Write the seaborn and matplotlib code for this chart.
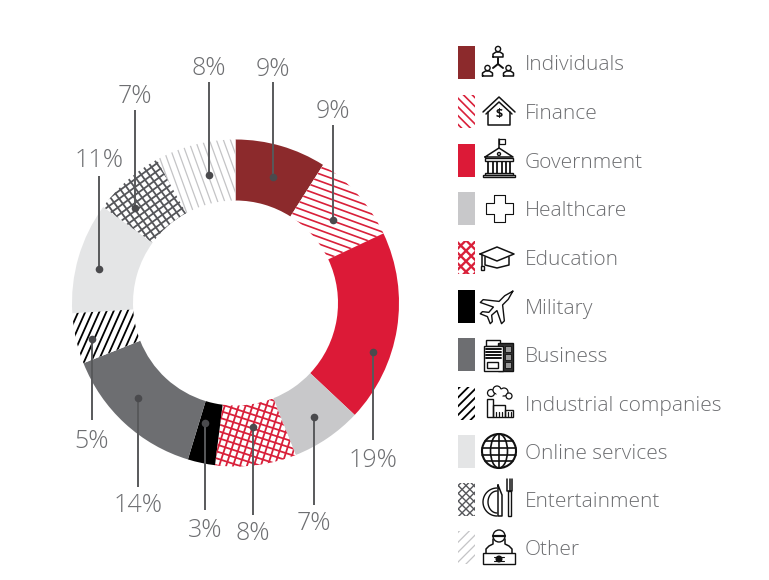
import matplotlib
matplotlib.use('Agg')
import matplotlib.pyplot as plt
import numpy as np
import seaborn as sns
from matplotlib.patches import Rectangle, Circle, Polygon, Ellipse

sectors = ['Individuals', 'Finance', 'Government', 'Healthcare', 'Education', 'Military',
           'Business', 'Industrial companies', 'Online services', 'Entertainment', 'Other']
shares = [9, 9, 19, 7, 8, 3, 14, 5, 11, 7, 8]
# the Military slice is drawn a little under its printed 3%
drawn = [9, 9, 19, 7, 8, 2.7, 14.3, 5, 11, 7, 8]
colors = ['#8c2a2c', '#d9203a', '#dc1a37', '#c8c8ca', '#d9203a', '#000000',
          '#6d6e71', '#000000', '#e4e5e6', '#55565a', '#c4c4c6']

# angle, spacing, line width for the hatched sectors, None = solid
wedge_hatch = [None, ([-20], 6.6, 1.2), None, None, ([72, -18], 6.6, 1.3), None,
               None, ([66], 6.4, 1.3), None, ([36, -54], 6.4, 1.3), ([-70], 6.6, 0.9)]
key_hatch = [None, ([-45], 6.2, 1.2), None, None, ([45, -45], 7.4, 1.7), None,
             None, ([45], 6.2, 1.3), None, ([45, -45], 5.5, 1.0), ([45], 7, 0.9)]

# dot x, dot y, line end y, label y (picture pixels)
callouts = [(273, 177, 82, 66), (333, 220, 125, 108), (373, 352, 440, 457), (314, 417, 505, 520),
            (253, 427, 515, 530), (205, 423, 510, 527), (138, 398, 487, 502), (92, 339, 420, 438),
            (99, 269, 176, 157), (135, 208, 110, 93), (209, 175, 82, 65)]

key_y = [62, 111, 160, 208, 257, 306, 354, 403, 451, 499, 547]

TEXT = '#6d6e71'
H = 580
CX, CY = 235.5, H - 303

sns.set_theme(style='white')
plt.rcParams['font.family'] = ['Open Sans', 'DejaVu Sans']

fig = plt.figure(figsize=(7.69, 5.8), dpi=100)
ax = fig.add_axes([0, 0, 1, 1])


def hatch_lines(patch, angles, spacing, color, lw, cx, cy, reach):
    for a in angles:
        t = np.radians(a)
        d = np.array([np.cos(t), np.sin(t)])
        n = np.array([-d[1], d[0]])
        for off in np.arange(-reach, reach, spacing):
            p0 = np.array([cx, cy]) + n * off - d * reach
            p1 = np.array([cx, cy]) + n * off + d * reach
            line, = ax.plot([p0[0], p1[0]], [p0[1], p1[1]], color=color, lw=lw, solid_capstyle='butt', zorder=3)
            line.set_clip_path(patch)


wedges, _ = ax.pie(drawn, startangle=90, counterclock=False, radius=163.5, center=(CX, CY),
                   colors=colors, wedgeprops={'width': 61, 'linewidth': 0})
ax.set_xlim(0, 769)
ax.set_ylim(0, H)
ax.set_aspect('auto')
ax.axis('off')

for w, col, h in zip(wedges, colors, wedge_hatch):
    if h is None:
        continue
    w.set_facecolor('white')
    hatch_lines(w, h[0], h[1], col, h[2], CX, CY, 180)

for (px, py, end, lab), val in zip(callouts, shares):
    ax.plot([px, px], [H - py, H - end], color='#58595b', lw=1.4, zorder=5, solid_capstyle='butt')
    ax.plot(px, H - py, 'o', color='#4a4a4d', ms=5.5, zorder=6, mew=0)
    ax.text(px, H - lab - 10, f'{val}%', ha='center', va='baseline', fontsize=18, color=TEXT, fontweight='light')


# small outline icons, drawn around (x, y) in picture pixels
def L(x, y, xs, ys, lw=1.1):
    ax.plot([x + v for v in xs], [H - y - v for v in ys], color='#111111', lw=lw, solid_capstyle='round', zorder=5)


def C(x, y, dx, dy, r, fill='none', lw=1.0):
    ax.add_patch(Circle((x + dx, H - y - dy), r, fc=fill, ec='#111111', lw=lw, zorder=5))


def R(x, y, dx, dy, w, h, fill='none', lw=1.0):
    ax.add_patch(Rectangle((x + dx, H - y - dy - h), w, h, fc=fill, ec='#111111', lw=lw, zorder=5))


def person(x, y, dx, dy):
    C(x, y, dx, dy - 3, 2.6)
    L(x, y, [dx - 5, dx - 5, dx - 2, dx + 2, dx + 5, dx + 5, dx - 5], [dy + 5, dy + 2, dy, dy, dy + 2, dy + 5, dy + 5])


def icon_people(x, y):
    person(x, y, 0, -10)
    person(x, y, -10.5, 9)
    person(x, y, 10.5, 9)
    L(x, y, [0, 0], [-4, 2], 1.4)
    L(x, y, [-5, 0, 5], [6, 2, 6], 1.4)


def icon_house(x, y):
    L(x, y, [-16, 0, 16], [1, -14, 1])
    L(x, y, [-13, 0, 13], [3, -9, 3])
    L(x, y, [-11, -11, 11, 11], [1, 14, 14, 1])
    ax.text(x, H - y - 3, '$', fontsize=9, ha='center', va='center', color='#111111', zorder=6,
            parse_math=False, fontweight='bold')


def icon_bank(x, y):
    L(x, y, [0, 0], [-12, -21])
    ax.add_patch(Polygon([(x, H - y + 21), (x + 6, H - y + 21), (x + 6, H - y + 16), (x, H - y + 16)],
                         fc='none', ec='#111111', lw=0.9, zorder=5))
    L(x, y, [-14, 0, 14, -14], [-3, -12, -3, -3])
    C(x, y, 0, -6, 1.5)
    R(x, y, -14, -2, 28, 2.5)
    for dx in [-11, -6.5, -2, 2.5, 7, 11]:
        L(x, y, [dx, dx], [2, 13], 1.3)
    R(x, y, -14, 13, 28, 2)
    R(x, y, -16, 15, 32, 2)


def icon_cross(x, y):
    a, b = 5.5, 13.5
    L(x, y, [-a, a, a, b, b, a, a, -a, -a, -b, -b, -a, -a], [-b, -b, -a, -a, a, a, b, b, a, a, -a, -a, -b], 0.8)


def icon_cap(x, y):
    L(x, y, [-17, 0, 17, 0, -17], [-3, -10, -3, 4, -3])
    L(x, y, [-12, -12, 0, 12, 12], [0, 8, 11, 8, 0])
    L(x, y, [-15, -15], [-2, 9])
    R(x, y, -16.5, 9, 3, 4)


def icon_jet(x, y):
    # plane pointing up, turned 45 degrees to the right
    xs = [0, 2.5, 2.5, 15, 15, 2.5, 2, 7, 7, 0, -7, -7, -2, -2.5, -15, -15, -2.5, -2.5, 0]
    ys = [-21, -12, -4, 6, 10, 4, 11, 15, 18, 15, 18, 15, 11, 4, 10, 6, -4, -12, -21]
    c = np.cos(np.radians(45))
    L(x, y, [c * (a - b) for a, b in zip(xs, ys)], [c * (a + b) for a, b in zip(xs, ys)], 1.0)


def icon_office(x, y):
    R(x, y, -13, -14, 14, 6)
    R(x, y, -1, -11, 15, 28, fill='#333333')
    R(x, y, -15, -8, 19, 25, fill='white')
    for dy in [-5, -2, 1, 4]:
        L(x, y, [-13, 2], [dy, dy], 1.4)
    R(x, y, -12, 8, 11, 6)
    for dy in [-8, 0, 8]:
        R(x, y, 6, dy, 6, 6, fill='#999999', lw=0.6)


def icon_factory(x, y):
    R(x, y, -12, -4, 6, 18)
    R(x, y, -6, 2, 12, 12)
    R(x, y, 6, 7, 8, 7)
    for dx in [-3, 0, 3, 8.5, 11.5]:
        L(x, y, [dx, dx], [9, 13], 0.9)
    for dx, dy, r in [(-8, -10, 3.5), (-2, -13, 4), (5, -11, 4), (10, -7, 3)]:
        C(x, y, dx, dy, r, fill='white', lw=0.9)
    ax.add_patch(Circle((x + 1, H - y + 10), 3.8, fc='white', ec='none', zorder=6))


def icon_globe(x, y):
    C(x, y, 0, 0, 17, lw=1.5)
    ax.add_patch(Ellipse((x, H - y), 17, 34, fc='none', ec='#111111', lw=1.2, zorder=5))
    L(x, y, [0, 0], [-17, 17], 1.2)
    for dy, hw in [(-10, 14), (-3.5, 17), (3.5, 17), (10, 14)]:
        L(x, y, [-hw, hw], [dy, dy], 1.2)


def icon_cutlery(x, y):
    t = np.radians(np.linspace(90, 270, 30))
    L(x, y, list(14 * np.cos(t) - 1), list(14 * np.sin(t) + 3), 1.0)
    L(x, y, list(9 * np.cos(t) - 1), list(11 * np.sin(t) + 3), 1.0)
    L(x, y, [0, 4, 4, 0, 0], [-14, -4, 17, 17, -14])
    L(x, y, [9, 9, 14, 14], [-20, -8, -8, -20])
    L(x, y, [11.5, 11.5], [-20, -8])
    R(x, y, 10, -8, 3, 25)


def icon_hacker(x, y):
    C(x, y, 0, -11, 6)
    L(x, y, [-6, -6, -10, -13, -13], [-8, -3, -1, 2, 6])
    L(x, y, [6, 6, 10, 13, 13], [-8, -3, -1, 2, 6])
    L(x, y, [-6, 6], [-11, -11], 1.6)
    R(x, y, -16, 6, 32, 11, fill='white')
    C(x, y, 0, 12, 2.8, fill='#111111')
    L(x, y, [-5, 5], [10, 10], 0.8)
    L(x, y, [-5, 5], [14, 14], 0.8)


icons = [icon_people, icon_house, icon_bank, icon_cross, icon_cap, icon_jet,
         icon_office, icon_factory, icon_globe, icon_cutlery, icon_hacker]
icon_x = [498, 499, 499, 499, 497, 498, 499, 499, 499, 498, 499]

for name, col, h, y, icon, ix in zip(sectors, colors, key_hatch, key_y, icons, icon_x):
    swatch = Rectangle((458, H - y - 16.5), 17, 33, fc=col if h is None else 'white', ec='none', zorder=2)
    ax.add_patch(swatch)
    if h is not None:
        hatch_lines(swatch, h[0], h[1], col, h[2], 466, H - y, 40)
    icon(ix, y)
    ax.text(525, H - y - 8, name, ha='left', va='baseline', fontsize=15, color=TEXT, fontweight='light')

fig.savefig('out.png', dpi=100)
